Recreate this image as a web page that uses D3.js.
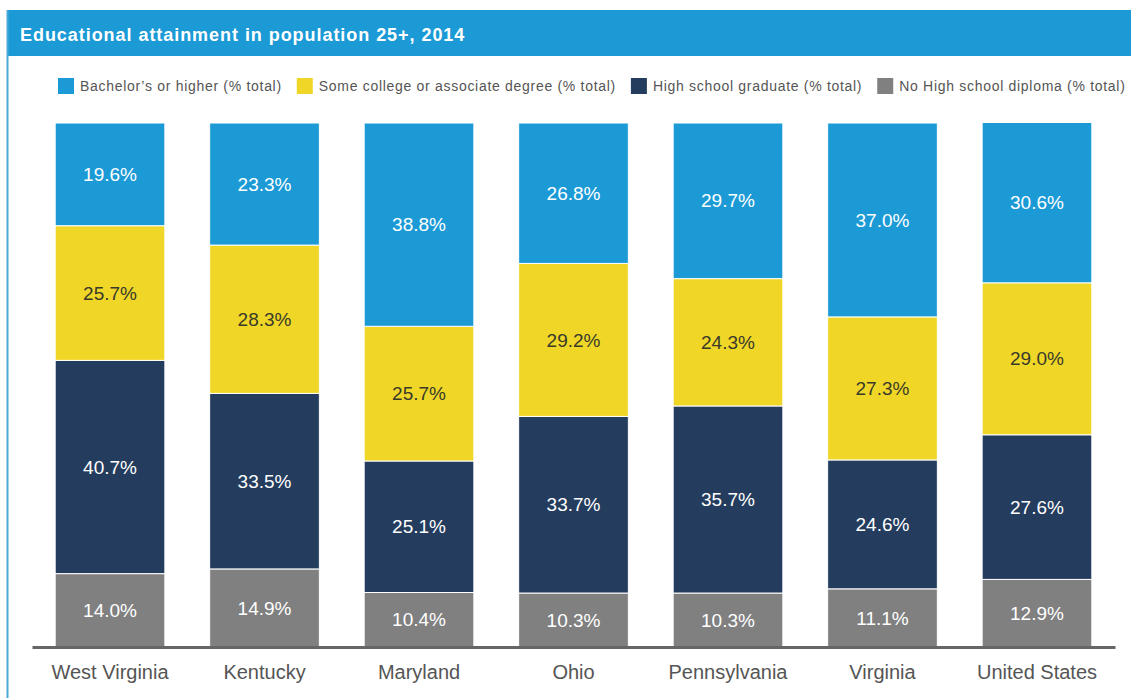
<!DOCTYPE html>
<html>
<head>
<meta charset="utf-8">
<script src="https://cdn.jsdelivr.net/npm/d3@7"></script>
<style>
  html, body { margin: 0; padding: 0; background: #fff; }
  svg { display: block; font-family: "Liberation Sans", Arial, sans-serif; }
</style>
</head>
<body>
<div id="chart"></div>
<script>
// data
const categories = ['West Virginia', 'Kentucky', 'Maryland', 'Ohio', 'Pennsylvania', 'Virginia', 'United States'];
const bachelor = [19.6, 23.3, 38.8, 26.8, 29.7, 37.0, 30.6];
const someCollege = [25.7, 28.3, 25.7, 29.2, 24.3, 27.3, 29.0];
const highSchool = [40.7, 33.5, 25.1, 33.7, 35.7, 24.6, 27.6];
const noDiploma = [14.0, 14.9, 10.4, 10.3, 10.3, 11.1, 12.9];
const seriesNames = ['Bachelor\u2019s or higher (% total)', 'Some college or associate degree (% total)', 'High school graduate (% total)', 'No High school diploma (% total)'];
const seriesColors = ['#1b9ad6', '#f0d727', '#243c5d', '#808080'];
const labelColors = ['#ffffff', '#3a3a2a', '#ffffff', '#ffffff'];

const width = 1131, height = 698;
const svg = d3.select('#chart').append('svg')
    .attr('width', width)
    .attr('height', height);

// panel frame + header
svg.append('rect')
    .attr('x', 7).attr('y', 10)
    .attr('width', width - 7).attr('height', 46)
    .attr('fill', '#1b9ad6');
svg.append('line')
    .attr('x1', 7.5).attr('x2', 7.5)
    .attr('y1', 10).attr('y2', height)
    .attr('stroke', '#4aa9d6').attr('stroke-width', 2);
svg.append('text')
    .attr('x', 20).attr('y', 41)
    .attr('fill', '#fff')
    .attr('font-size', 18)
    .attr('font-weight', 'bold')
    .attr('letter-spacing', 0.95)
    .text('Educational attainment in population 25+, 2014');

// legend, laid out left to right
const legend = svg.append('g').attr('transform', 'translate(58,78)');
let lx = 0;
seriesNames.forEach((name, i) => {
    const item = legend.append('g').attr('transform', `translate(${lx},0)`);
    item.append('rect').attr('width', 16).attr('height', 16).attr('fill', seriesColors[i]);
    const t = item.append('text')
        .attr('x', 22).attr('y', 13)
        .attr('fill', '#555')
        .attr('font-size', 14)
        .attr('letter-spacing', 0.7)
        .text(name);
    lx += 22 + t.node().getComputedTextLength() + 15;
});

// scales
const x = d3.scaleBand()
    .domain(categories)
    .range([32, 1115])
    .paddingInner(0.29)
    .paddingOuter(0.15);
const y = d3.scaleLinear().domain([0, 100]).range([647, 123]);

// stacked table: bottom-up order is no diploma, high school, some college, bachelor
const keys = ['noDiploma', 'highSchool', 'someCollege', 'bachelor'];
const table = categories.map((c, i) => ({
    name: c,
    bachelor: bachelor[i],
    someCollege: someCollege[i],
    highSchool: highSchool[i],
    noDiploma: noDiploma[i]
}));
const stack = d3.stack().keys(keys)(table);
const colorOf = { bachelor: 0, someCollege: 1, highSchool: 2, noDiploma: 3 };

const layers = svg.append('g').selectAll('g')
    .data(stack)
    .join('g')
    .attr('fill', d => seriesColors[colorOf[d.key]]);

layers.selectAll('rect')
    .data(d => d)
    .join('rect')
    .attr('x', d => x(d.data.name))
    .attr('width', x.bandwidth())
    .attr('y', d => y(d[1]))
    .attr('height', d => y(d[0]) - y(d[1]))
    .attr('stroke', '#fff')
    .attr('stroke-width', 1);

layers.selectAll('text')
    .data(d => d.map(v => Object.assign({ key: d.key }, v)))
    .join('text')
    .attr('x', d => x(d.data.name) + x.bandwidth() / 2)
    .attr('y', d => (y(d[0]) + y(d[1])) / 2)
    .attr('dy', '0.35em')
    .attr('text-anchor', 'middle')
    .attr('font-size', 19)
    .attr('fill', d => labelColors[colorOf[d.key]])
    .text(d => d.data[d.key].toFixed(1) + '%');

// baseline axis
const axis = svg.append('g')
    .attr('transform', `translate(0,${y(0)})`)
    .call(d3.axisBottom(x).tickSize(0).tickPadding(18));
axis.select('.domain')
    .attr('stroke', '#666')
    .attr('stroke-width', 3);
axis.selectAll('text')
    .attr('font-size', 20)
    .attr('fill', '#555')
    .attr('font-family', '"Liberation Sans", Arial, sans-serif');
</script>
</body>
</html>
